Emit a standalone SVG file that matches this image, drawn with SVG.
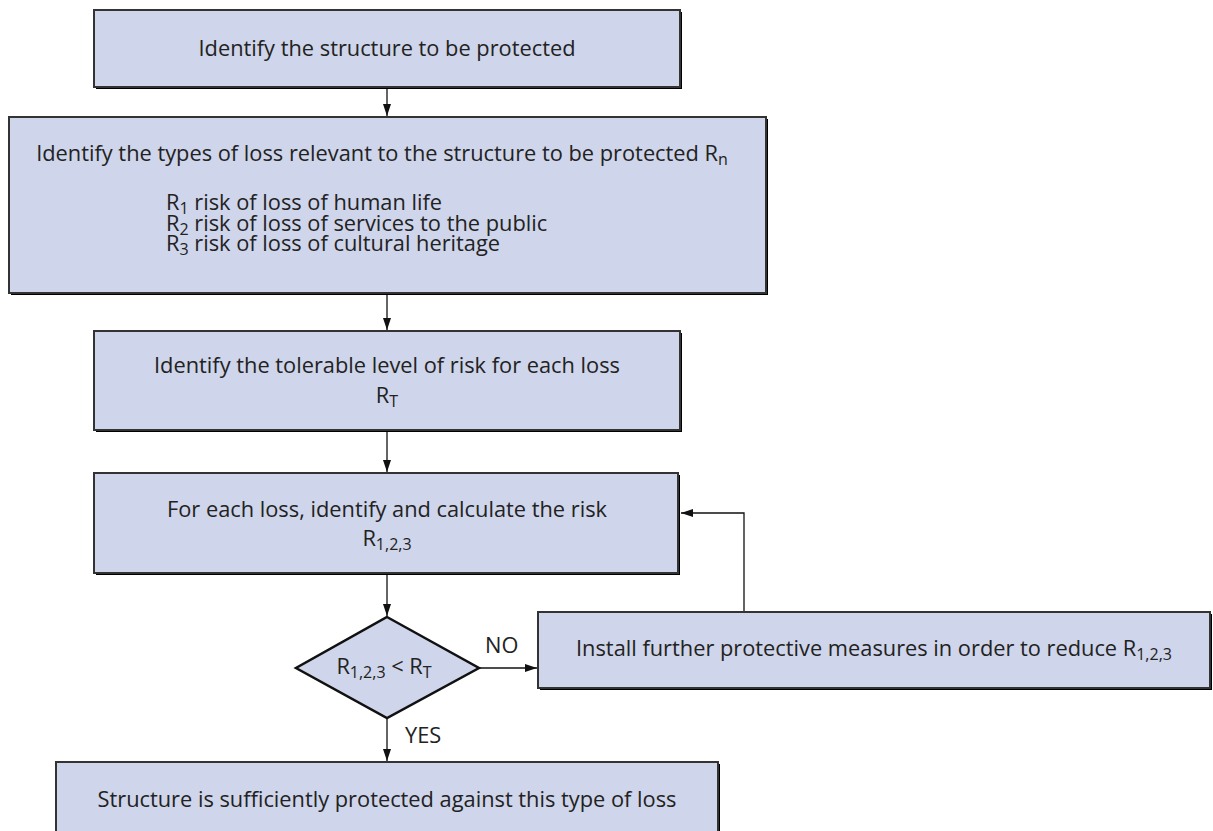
<svg xmlns="http://www.w3.org/2000/svg" width="1213" height="831" viewBox="0 0 1213 831">
<style>
  .shadow { fill: #000; }
  .box { fill: #CFD5EA; stroke: #333; stroke-width: 2; }
  .dia { fill: #CFD5EA; stroke: #111; stroke-width: 2.5; stroke-linejoin: miter; }
  text { font-family: "Open Sans", "Noto Sans", "Liberation Sans", sans-serif; font-size: 21.8px; fill: #222; }
  .c { text-anchor: middle; }
  .sub { font-size: 16px; }
  .conn { fill: none; stroke: #111; stroke-width: 1.3; }
</style>
<defs>
  <marker id="arr" markerUnits="userSpaceOnUse" markerWidth="12" markerHeight="10" refX="12" refY="4" orient="auto">
    <path d="M0,0 L12,4 L0,8 z" fill="#111"/>
  </marker>
</defs>
<rect width="1213" height="831" fill="#fff"/>

<g id="connectors">
  <line class="conn" x1="387" y1="88" x2="387" y2="116" marker-end="url(#arr)"/>
  <line class="conn" x1="387" y1="294" x2="387" y2="330" marker-end="url(#arr)"/>
  <line class="conn" x1="387" y1="431" x2="387" y2="472" marker-end="url(#arr)"/>
  <line class="conn" x1="387" y1="574" x2="387" y2="616" marker-end="url(#arr)"/>
  <line class="conn" x1="480" y1="668" x2="537" y2="668" marker-end="url(#arr)"/>
  <polyline class="conn" points="744,612 744,513 681,513" marker-end="url(#arr)"/>
  <line class="conn" x1="387" y1="719" x2="387" y2="761" marker-end="url(#arr)"/>
  <text x="485" y="653">NO</text>
  <text x="405" y="743">YES</text>
</g>

<g id="n1">
  <rect class="shadow" x="96" y="12" width="586" height="77"/>
  <rect class="box" x="94" y="10" width="586" height="77"/>
  <text class="c" x="387" y="56">Identify the structure to be protected</text>
</g>

<g id="n2">
  <rect class="shadow" x="11" y="119" width="757" height="176"/>
  <rect class="box" x="9" y="117" width="757" height="176"/>
  <text class="c" x="382" y="161">Identify the types of loss relevant to the structure to be protected R<tspan class="sub" dy="4">n</tspan></text>
  <text x="166" y="210">R<tspan class="sub" dy="4">1</tspan><tspan dy="-4"> risk of loss of human life</tspan></text>
  <text x="166" y="231">R<tspan class="sub" dy="4">2</tspan><tspan dy="-4"> risk of loss of services to the public</tspan></text>
  <text x="166" y="251">R<tspan class="sub" dy="4">3</tspan><tspan dy="-4"> risk of loss of cultural heritage</tspan></text>
</g>

<g id="n3">
  <rect class="shadow" x="96" y="333" width="586" height="99"/>
  <rect class="box" x="94" y="331" width="586" height="99"/>
  <text class="c" x="387" y="373">Identify the tolerable level of risk for each loss</text>
  <text class="c" x="387" y="403">R<tspan class="sub" dy="4">T</tspan></text>
</g>

<g id="n4">
  <rect class="shadow" x="96" y="475" width="584" height="100"/>
  <rect class="box" x="94" y="473" width="584" height="100"/>
  <text class="c" x="387" y="517">For each loss, identify and calculate the risk</text>
  <text class="c" x="387" y="546">R<tspan class="sub" dy="4">1,2,3</tspan></text>
</g>

<g id="n5">
  <polygon class="dia" points="387,617 479,668 387,718 296,668"/>
  <text class="c" x="384" y="674">R<tspan class="sub" dy="4">1,2,3</tspan><tspan dy="-4"> &lt; R</tspan><tspan class="sub" dy="4">T</tspan></text>
</g>

<g id="n6">
  <rect class="shadow" x="540" y="614" width="672" height="76"/>
  <rect class="box" x="538" y="612" width="672" height="76"/>
  <text class="c" x="874" y="656">Install further protective measures in order to reduce R<tspan class="sub" dy="4">1,2,3</tspan></text>
</g>

<g id="n7">
  <rect class="shadow" x="58" y="764" width="662" height="80"/>
  <rect class="box" x="56" y="762" width="662" height="80"/>
  <text class="c" x="387" y="807">Structure is sufficiently protected against this type of loss</text>
</g>
</svg>
